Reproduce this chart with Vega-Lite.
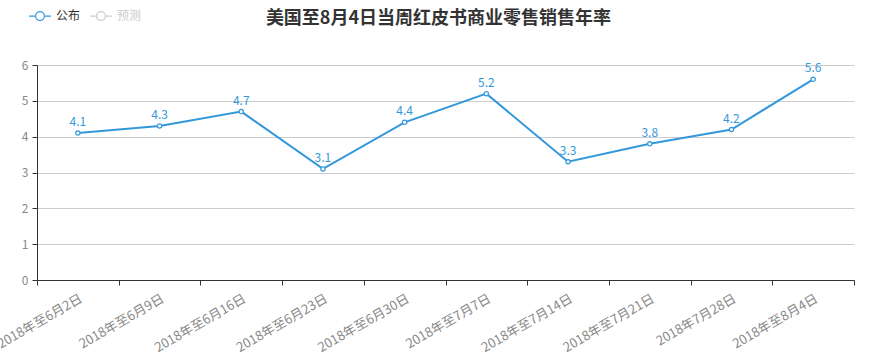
{
  "$schema": "https://vega.github.io/schema/vega-lite/v6.json",
  "autosize": {"type": "none"},
  "padding": {"left": 37, "top": 65, "right": 17, "bottom": 77},
  "width": 817,
  "height": 215,
  "background": "white",
  "title": {
    "text": "美国至8月4日当周红皮书商业零售销售年率",
    "fontSize": 18,
    "fontWeight": "bold",
    "color": "#333",
    "font": "Noto Sans CJK SC",
    "anchor": "middle",
    "offset": -24,
    "dx": -7
  },
  "config": {
    "view": {"stroke": null},
    "font": "Noto Sans CJK SC"
  },
  "data": {
    "values": [
      {"date": "2018年至6月2日", "value": 4.1, "series": "公布"},
      {"date": "2018年至6月9日", "value": 4.3, "series": "公布"},
      {"date": "2018年至6月16日", "value": 4.7, "series": "公布"},
      {"date": "2018年至6月23日", "value": 3.1, "series": "公布"},
      {"date": "2018年至6月30日", "value": 4.4, "series": "公布"},
      {"date": "2018年至7月7日", "value": 5.2, "series": "公布"},
      {"date": "2018年至7月14日", "value": 3.3, "series": "公布"},
      {"date": "2018年至7月21日", "value": 3.8, "series": "公布"},
      {"date": "2018年7月28日", "value": 4.2, "series": "公布"},
      {"date": "2018年至8月4日", "value": 5.6, "series": "公布"}
    ]
  },
  "encoding": {
    "x": {
      "field": "date",
      "type": "nominal",
      "sort": null,
      "bandPosition": 0.5,
      "scale": {"type": "band", "paddingInner": 0, "paddingOuter": 0},
      "axis": {
        "title": null,
        "labelAngle": -30,
        "labelAlign": "right",
        "labelBaseline": "top",
        "labelColor": "#888",
        "labelFontSize": 13,
        "labelPadding": 7,
        "labelOverlap": false,
        "labelBound": false,
        "tickBand": "extent",
        "tickColor": "#333",
        "tickSize": 5,
        "domainColor": "#333",
        "grid": false
      }
    },
    "y": {
      "field": "value",
      "type": "quantitative",
      "scale": {"domain": [0, 6], "nice": false},
      "axis": {
        "title": null,
        "values": [0, 1, 2, 3, 4, 5, 6],
        "labelColor": "#888",
        "labelFontSize": 12,
        "labelPadding": 4,
        "tickColor": "#333",
        "tickSize": 5,
        "domainColor": "#333",
        "gridColor": "#ccc",
        "grid": true
      }
    }
  },
  "layer": [
    {
      "mark": {"type": "line", "strokeWidth": 2},
      "encoding": {
        "color": {
          "field": "series",
          "type": "nominal",
          "scale": {"domain": ["公布", "预测"], "range": ["#3398DB", "#cccccc"]},
          "legend": {
            "title": null,
            "orient": "none",
            "legendX": -9,
            "legendY": -61,
            "direction": "horizontal",
            "symbolType": "M-1,0L-0.4,0M0.4,0L1,0M0.4,0A0.4,0.4,0,1,1,-0.4,0A0.4,0.4,0,1,1,0.4,0",
            "symbolSize": 484,
            "symbolStrokeWidth": 1.2,
            "symbolFillColor": "white",
            "labelFontSize": 12,
            "labelOffset": 4,
            "columnPadding": 6,
            "encode": {
              "labels": {"update": {"fill": {"signal": "datum.value === '预测' ? '#cccccc' : '#333333'"}}}
            }
          }
        }
      }
    },
    {
      "mark": {"type": "point", "shape": "circle", "size": 18, "filled": true, "fill": "white", "stroke": "#3398DB", "strokeWidth": 1.2, "opacity": 1}
    },
    {
      "mark": {"type": "text", "dy": -11, "color": "#3398DB", "fontSize": 12},
      "encoding": {"text": {"field": "value", "type": "quantitative", "format": ".1f"}}
    }
  ]
}
